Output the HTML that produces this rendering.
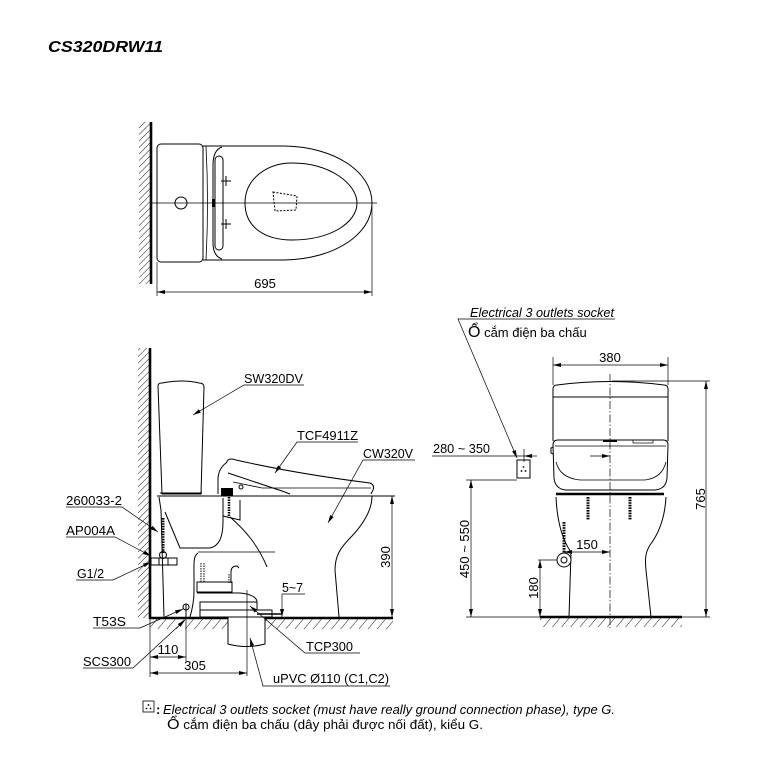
<!DOCTYPE html>
<html><head><meta charset="utf-8"><style>
html,body{margin:0;padding:0;background:#fff;}
svg{display:block;}
text{font-family:"Liberation Sans",Arial,"Noto Sans CJK SC",sans-serif;fill:#000;}
</style></head><body>
<svg width="781" height="777" viewBox="0 0 781 777" xmlns="http://www.w3.org/2000/svg">
<defs>
<pattern id="hw" width="4.6" height="10" patternUnits="userSpaceOnUse" patternTransform="rotate(45)"><line x1="0" y1="0" x2="0" y2="10" stroke="#000" stroke-width="0.9"/></pattern>
<pattern id="hf" width="7" height="10" patternUnits="userSpaceOnUse" patternTransform="rotate(40)"><line x1="0" y1="0" x2="0" y2="10" stroke="#000" stroke-width="0.9"/></pattern>
<marker id="ar" viewBox="0 0 8 4" refX="8" refY="2" markerWidth="8" markerHeight="4" markerUnits="userSpaceOnUse" orient="auto-start-reverse"><path d="M0,0 L8,2 L0,4 Z" fill="#000"/></marker>
</defs>

<!-- Title -->
<text x="48" y="52" font-size="16" font-weight="bold" font-style="italic" textLength="115" lengthAdjust="spacingAndGlyphs">CS320DRW11</text>

<!-- ================= TOP VIEW ================= -->
<g fill="none" stroke="#000" stroke-width="1">
<rect x="139" y="122" width="11" height="162" fill="url(#hw)" stroke="none"/>
<line x1="151" y1="122" x2="151" y2="284" stroke-width="2.6"/>
<rect x="157" y="144" width="46" height="118" rx="4"/>
<path d="M203,146 L285,146 C335,147 372,172 372,203 C372,234 335,259 285,260 L203,260"/>
<path d="M206,146 Q209,203 206,260" stroke-width="0.8"/>
<path d="M222,147 Q213,150 213,165 L213,243 Q213,256 222,259"/>
<rect x="215" y="156" width="8" height="94" rx="4"/>
<path d="M245,203 C245,178 268,163 292,163 C330,163 357,184 357,203 C357,223 330,240 292,240 C266,240 245,228 245,203 Z"/>
<polygon points="273,192 297,196 296,210 275,211" stroke-dasharray="2,1.5"/>
<line x1="151" y1="203" x2="377" y2="203" stroke-width="0.8"/>
<circle cx="181" cy="203" r="6"/>
<rect x="212" y="199" width="2.5" height="8" fill="#000" stroke="none"/>
<line x1="221" y1="181" x2="231" y2="181"/><line x1="226" y1="176" x2="226" y2="186"/>
<line x1="221" y1="224" x2="231" y2="224"/><line x1="226" y1="219" x2="226" y2="229"/>
<!-- dim 695 -->
<line x1="157" y1="262" x2="157" y2="296" stroke-width="0.7"/>
<line x1="372" y1="206" x2="372" y2="296" stroke-width="0.7"/>
<line x1="157" y1="292" x2="372" y2="292" stroke-width="0.7" marker-start="url(#ar)" marker-end="url(#ar)"/>
</g>
<text x="265" y="288" font-size="13" text-anchor="middle">695</text>

<!-- ================= SIDE VIEW ================= -->
<g fill="none" stroke="#000" stroke-width="1">
<rect x="138" y="348" width="11" height="270" fill="url(#hw)" stroke="none"/>
<line x1="150" y1="348" x2="150" y2="619" stroke-width="2.6"/>
<rect x="150" y="619" width="243" height="10" fill="url(#hf)" stroke="none"/>
<line x1="149" y1="618" x2="393" y2="618" stroke-width="2.6"/>
<!-- drain pipe -->
<path d="M228,617 L228,644 Q246,649 265,644 L265,617 Z" fill="#fff"/>
<!-- tank -->
<path d="M158,386 Q158,383 162,383 Q183,379 199,383 Q204,383 204,387 L201,494 L162,494 Z"/>
<line x1="160" y1="493" x2="202" y2="493"/>
<!-- bowl top line -->
<line x1="157" y1="496" x2="395" y2="496"/>
<!-- seat -->
<path d="M218,494 L218,478 Q219,468 226,463 L228,460 Q231,458 236,460 C280,470 330,478 370,483 Q375,485 373,490 L371,494"/>
<path d="M228,473 L282,491 L290,494"/>
<path d="M233,482 L262,488 L371,488" stroke-width="0.8"/>
<rect x="221" y="488" width="12" height="8" fill="#000" stroke="none"/>
<circle cx="241" cy="487" r="2"/>
<!-- bowl body -->
<path d="M372,496 C372,508 365,522 352,536 C340,548 335,556 335,570 L339,617"/>
<path d="M159,497 L161,510 L164,617"/>
<path d="M165,512 L180,548 L210,548 C220,546 223,535 223,522 L223,510"/>
<path d="M230,517 C245,530 258,545 267,567"/>
<path d="M223,498 L223,516 L240,520 L240,500"/>
<line x1="229" y1="497" x2="229" y2="518" stroke-width="2.5" stroke-dasharray="1.5,1"/>
<line x1="198" y1="552" x2="275" y2="552" stroke-width="0.8"/>
<path d="M198,553 C193,556 194,565 194,575 L194,592 C194,602 192,610 190,617"/>
<!-- carrier / flange -->
<line x1="201" y1="563" x2="201" y2="583" stroke-dasharray="1.5,1"/>
<line x1="204" y1="563" x2="204" y2="583" stroke-dasharray="1.5,1"/>
<line x1="229" y1="574" x2="229" y2="583" stroke-dasharray="1.5,1"/>
<rect x="197" y="582" width="35" height="10"/>
<path d="M231,583 L231,572 Q231,566 237,566 L239,568"/>
<path d="M197,593 L240,593 C252,594 257,598 257,602"/>
<rect x="200" y="602" width="57" height="8"/>
<rect x="200" y="610" width="72" height="7"/>
<line x1="257" y1="614" x2="282" y2="614" stroke-width="1.5"/>
<!-- supply -->
<line x1="163" y1="518" x2="163" y2="553" stroke-width="3" stroke-dasharray="1.6,1"/>
<circle cx="163" cy="555" r="3.5"/>
<rect x="151" y="558" width="26" height="7"/>
<line x1="159" y1="558" x2="159" y2="565"/><line x1="168" y1="558" x2="168" y2="565"/>
<!-- T53S valve -->
<circle cx="186" cy="607" r="3"/>
<line x1="186" y1="604" x2="186" y2="618"/>
<!-- centerline pipe -->
<line x1="247" y1="590" x2="247" y2="676" stroke-width="0.7"/>
<!-- dims -->
<line x1="392" y1="496" x2="392" y2="617" stroke-width="0.7" marker-start="url(#ar)" marker-end="url(#ar)"/>
<line x1="150" y1="619" x2="150" y2="677" stroke-width="0.7"/>
<line x1="186" y1="618" x2="186" y2="661" stroke-width="0.7"/>
<line x1="150" y1="657" x2="186" y2="657" stroke-width="0.7" marker-start="url(#ar)" marker-end="url(#ar)"/>
<line x1="150" y1="673" x2="247" y2="673" stroke-width="0.7" marker-start="url(#ar)" marker-end="url(#ar)"/>
<line x1="282" y1="594" x2="282" y2="617" stroke-width="0.7" marker-end="url(#ar)"/>
<!-- leaders -->
<g stroke-width="0.7">
<path d="M66,507 L122,507 L158,532" marker-end="url(#ar)"/>
<path d="M66,537 L115,537 L151,556" marker-end="url(#ar)"/>
<path d="M76,580 L113,580 L151,562" marker-end="url(#ar)"/>
<path d="M93,628 L140,628 L183,609" marker-end="url(#ar)"/>
<path d="M83,668 L133,668 L185,620" marker-end="url(#ar)"/>
<path d="M304,385 L244,385 L193,415" marker-end="url(#ar)"/>
<path d="M358,442 L297,442 L275,473" marker-end="url(#ar)"/>
<path d="M415,460 L363,460 L328,523" marker-end="url(#ar)"/>
<path d="M282,594 L305,594"/>
<path d="M360,653 L305,653 L250,606" marker-end="url(#ar)"/>
<path d="M390,686 L263,686 L250,638" marker-end="url(#ar)"/>
</g>
</g>
<g font-size="13">
<text x="66" y="505" textLength="56" lengthAdjust="spacingAndGlyphs">260033-2</text>
<text x="66" y="535" textLength="49" lengthAdjust="spacingAndGlyphs">AP004A</text>
<text x="77" y="578" textLength="27" lengthAdjust="spacingAndGlyphs">G1/2</text>
<text x="93" y="626" textLength="33" lengthAdjust="spacingAndGlyphs">T53S</text>
<text x="83" y="666" textLength="48" lengthAdjust="spacingAndGlyphs">SCS300</text>
<text x="168" y="654" text-anchor="middle">110</text>
<text x="195" y="670" text-anchor="middle">305</text>
<text x="244" y="383" textLength="59" lengthAdjust="spacingAndGlyphs">SW320DV</text>
<text x="297" y="440" textLength="61" lengthAdjust="spacingAndGlyphs">TCF4911Z</text>
<text x="363" y="458" textLength="50" lengthAdjust="spacingAndGlyphs">CW320V</text>
<text x="282" y="592" textLength="21" lengthAdjust="spacingAndGlyphs">5~7</text>
<text x="306" y="651" textLength="47" lengthAdjust="spacingAndGlyphs">TCP300</text>
<text x="273" y="683" textLength="116" lengthAdjust="spacingAndGlyphs">uPVC Ø110 (C1,C2)</text>
<text transform="translate(390,557) rotate(-90)" text-anchor="middle">390</text>
</g>

<!-- ================= FRONT VIEW ================= -->
<g fill="none" stroke="#000" stroke-width="1">
<rect x="540" y="618" width="142" height="9" fill="url(#hf)" stroke="none"/>
<line x1="540" y1="617" x2="682" y2="617" stroke-width="2.6"/>
<!-- tank -->
<path d="M553,441 L553,389 Q553,385 557,385 Q610,378 664,385 Q668,385 668,389 L668,441"/>
<line x1="553" y1="397" x2="668" y2="397"/>
<!-- seat front -->
<path d="M553,445 Q553,440 558,440 L663,440 Q668,440 668,445 L667,478 Q666,489 655,490 L566,490 Q555,489 554,478 Z" fill="#fff"/>
<line x1="555" y1="446" x2="666" y2="446" stroke-width="0.8"/>
<path d="M556,462 Q560,478 580,480 L645,480 Q662,478 666,462" stroke-width="0.8"/>
<rect x="603" y="440" width="14" height="2" fill="#000" stroke="none"/>
<rect x="633" y="440" width="20" height="3" stroke-width="0.7"/>
<path d="M553,447 L551,448 L551,453 L553,454"/>
<line x1="556" y1="494" x2="664" y2="494" stroke-width="2.5"/>
<!-- pedestal -->
<path d="M556,497 C557,520 562,540 571,552 L569,617"/>
<path d="M666,497 C665,515 660,532 650,545 C645,553 645,560 646,570 L651,617"/>
<line x1="588" y1="497" x2="588" y2="520" stroke-width="3" stroke-dasharray="1.6,1"/>
<line x1="630" y1="497" x2="630" y2="520" stroke-width="3" stroke-dasharray="1.6,1"/>
<line x1="564" y1="522" x2="564" y2="553" stroke-width="3" stroke-dasharray="1.6,1"/>
<circle cx="564" cy="560" r="7" fill="#fff"/>
<circle cx="564" cy="560" r="3"/>
<!-- centerline -->
<line x1="610" y1="374" x2="610" y2="628" stroke-width="0.7" stroke-dasharray="8,2,1.5,2"/>
<!-- socket -->
<rect x="517" y="460" width="13" height="18" fill="#fff"/>
<line x1="524" y1="449" x2="524" y2="462" stroke-width="0.7"/>
<!-- dims -->
<g stroke-width="0.7">
<line x1="553" y1="357" x2="553" y2="385"/>
<line x1="668" y1="357" x2="668" y2="385"/>
<line x1="553" y1="365" x2="668" y2="365" marker-start="url(#ar)" marker-end="url(#ar)"/>
<line x1="432" y1="456" x2="524" y2="456"/>
<line x1="537" y1="456" x2="524" y2="456" marker-end="url(#ar)"/>
<line x1="590" y1="456" x2="610" y2="456" marker-end="url(#ar)"/>
<line x1="466" y1="480" x2="517" y2="480"/>
<line x1="466" y1="617" x2="540" y2="617"/>
<line x1="471" y1="480" x2="471" y2="617" marker-start="url(#ar)" marker-end="url(#ar)"/>
<line x1="538" y1="560" x2="557" y2="560"/>
<line x1="540" y1="560" x2="540" y2="617" marker-start="url(#ar)" marker-end="url(#ar)"/>
<line x1="564" y1="552" x2="610" y2="552" marker-start="url(#ar)" marker-end="url(#ar)"/>
<line x1="612" y1="381" x2="710" y2="381"/>
<line x1="682" y1="617" x2="710" y2="617"/>
<line x1="706" y1="381" x2="706" y2="617" marker-start="url(#ar)" marker-end="url(#ar)"/>
<path d="M615,319 L458,319 L517,458" marker-end="url(#ar)"/>
</g>
</g>
<!-- socket dots -->
<g fill="#000"><circle cx="523.5" cy="467" r="0.9"/><circle cx="521.5" cy="471" r="0.9"/><circle cx="525.5" cy="471" r="0.9"/></g>
<g font-size="13">
<text x="610" y="362" text-anchor="middle">380</text>
<text x="433" y="453" textLength="57" lengthAdjust="spacingAndGlyphs">280 ~ 350</text>
<text x="587" y="549" text-anchor="middle">150</text>
<text transform="translate(469,549) rotate(-90)" text-anchor="middle">450 ~ 550</text>
<text transform="translate(538,588) rotate(-90)" text-anchor="middle">180</text>
<text transform="translate(705,499) rotate(-90)" text-anchor="middle">765</text>
<text x="470" y="317" font-style="italic" textLength="144" lengthAdjust="spacingAndGlyphs">Electrical 3 outlets socket</text>
<text x="468" y="337"><tspan font-size="16">Ổ</tspan> cắm điện ba chấu</text>
</g>

<!-- ================= NOTE ================= -->
<rect x="143" y="701" width="11" height="11" fill="#fff" stroke="#000" stroke-width="0.8"/>
<g fill="#000"><circle cx="148.5" cy="705" r="0.9"/><circle cx="146.5" cy="708.5" r="0.9"/><circle cx="150.5" cy="708.5" r="0.9"/></g>
<text x="156" y="714" font-size="13" font-weight="bold">:</text>
<text x="163" y="714" font-size="12.5" font-style="italic" textLength="452" lengthAdjust="spacingAndGlyphs">Electrical 3 outlets socket (must have really ground connection phase), type G.</text>
<text x="167" y="729" font-size="12.5" textLength="316" lengthAdjust="spacingAndGlyphs"><tspan font-size="15">Ổ</tspan> cắm điện ba chấu (dây phải được nối đất), kiểu G.</text>
</svg>
</body></html>
